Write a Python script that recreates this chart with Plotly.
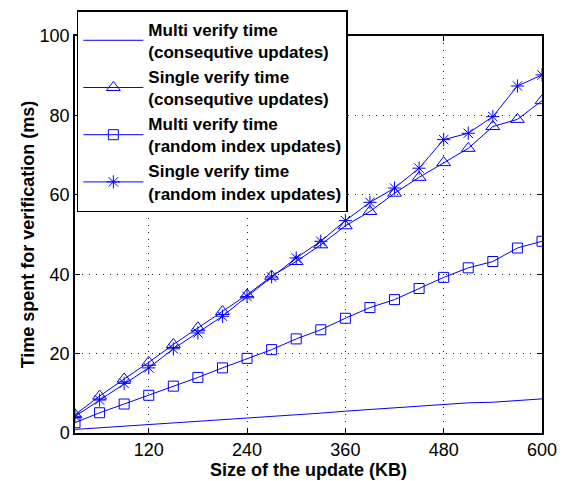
import plotly.graph_objects as go

update_size_kb = [30, 60, 90, 120, 150, 180, 210, 240, 270, 300,
                  330, 360, 390, 420, 450, 480, 510, 540, 570, 600]
multi_consecutive = [0.9, 1.3, 1.7, 2.1, 2.5, 2.9, 3.3, 3.8, 4.2, 4.6,
                     5.0, 5.5, 5.9, 6.3, 6.8, 7.2, 7.6, 7.75, 8.1, 8.6]
single_consecutive = [4.6, 9.3, 13.6, 17.8, 22.3, 26.5, 30.6, 34.8, 39.5, 43.2,
                      47.4, 52.2, 55.8, 60.4, 64.4, 68.1, 71.7, 77.2, 79.0, 83.7]
multi_random = [2.6, 5.1, 7.3, 9.5, 11.8, 14.0, 16.4, 18.8, 21.0, 23.7,
                26.0, 28.9, 31.6, 33.6, 36.4, 39.2, 41.6, 43.2, 46.6, 48.3]
single_random = [4.2, 8.3, 12.5, 16.4, 21.2, 25.2, 29.4, 34.4, 39.3, 44.1,
                 48.3, 53.5, 58.1, 61.7, 66.7, 73.9, 75.5, 79.7, 87.4, 90.2]

series_names = ["Multi verify time<br>(consequtive updates)",
                "Single verify time<br>(consequtive updates)",
                "Multi verify time<br>(random index updates)",
                "Single verify time<br>(random index updates)"]
x_title = "Size of the update (KB)"
y_title = "Time spent for verification (ms)"
x_tick_vals = [120, 240, 360, 480, 600]
y_tick_vals = [0, 20, 40, 60, 80, 100]

BLUE = "#0000ff"
FONT = "Liberation Sans, Arial, sans-serif"

fig = go.Figure()
fig.add_trace(go.Scatter(x=update_size_kb, y=multi_consecutive, mode="lines",
                         name=series_names[0], line=dict(color=BLUE, width=1)))
fig.add_trace(go.Scatter(x=update_size_kb, y=single_consecutive, mode="lines+markers",
                         name=series_names[1], line=dict(color=BLUE, width=1),
                         marker=dict(symbol="triangle-up-open", size=12, color=BLUE,
                                     line=dict(width=1, color=BLUE))))
fig.add_trace(go.Scatter(x=update_size_kb, y=multi_random, mode="lines+markers",
                         name=series_names[2], line=dict(color=BLUE, width=1),
                         marker=dict(symbol="square-open", size=10, color=BLUE,
                                     line=dict(width=1, color=BLUE))))
fig.add_trace(go.Scatter(x=update_size_kb, y=single_random, mode="lines+markers",
                         name=series_names[3], line=dict(color=BLUE, width=1),
                         marker=dict(symbol="asterisk-open", size=11, color=BLUE,
                                     line=dict(width=1, color=BLUE))))

axis_common = dict(showline=True, linecolor="black", linewidth=1.5, mirror="ticks",
                   ticks="inside", ticklen=5, tickcolor="black",
                   showgrid=True, gridcolor="#222222", gridwidth=1, griddash="1px,6px",
                   zeroline=False, tickfont=dict(family=FONT, size=18, color="black"))

fig.update_xaxes(range=[30, 600], tickvals=x_tick_vals, **axis_common)
fig.update_yaxes(range=[0, 100], tickvals=y_tick_vals,
                 title=dict(text="<b>" + y_title + "</b>",
                            font=dict(family=FONT, size=18, color="black"), standoff=0),
                 **axis_common)

fig.add_annotation(text="<b>" + x_title + "</b>", xref="paper", yref="paper",
                   x=0.5, y=0, xanchor="center", yanchor="middle", yshift=-37,
                   showarrow=False, font=dict(family=FONT, size=18, color="black"))

fig.update_layout(
    width=563, height=481,
    margin=dict(l=75, r=21, t=36, b=48, autoexpand=False),
    paper_bgcolor="white", plot_bgcolor="white",
    showlegend=True,
    legend=dict(x=0.004, y=1.065, xanchor="left", yanchor="top",
                bgcolor="white", bordercolor="black", borderwidth=1.5,
                font=dict(family=FONT, size=17, color="black", weight="bold"),
                itemwidth=60, tracegroupgap=0),
)

fig.write_html("out.html", config={"displayModeBar": False},
               post_script="document.body.style.margin='0';document.body.style.padding='0';")
